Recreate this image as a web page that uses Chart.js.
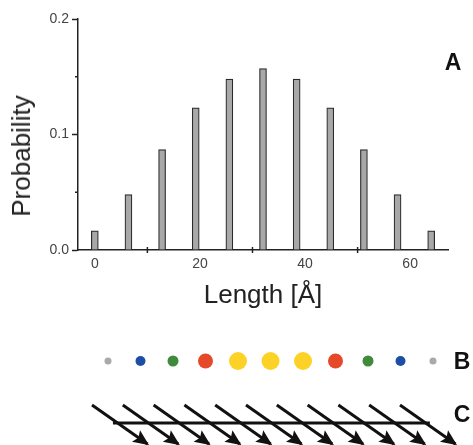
<!DOCTYPE html>
<html>
<head>
<meta charset="utf-8">
<script src="https://cdn.jsdelivr.net/npm/chart.js@4.4.1/dist/chart.umd.min.js"></script>
<style>
  body { margin: 0; background: #fff; }
  #wrap { position: relative; width: 473px; height: 445px; overflow: hidden; background: #fff; font-family: "Liberation Sans", Arial, sans-serif; }
  canvas { position: absolute; left: 0; }
  #main { top: 0; }
  #strip { top: 340px; }
  .yTitle { position: absolute; left: 21px; top: 156px; transform: translate(-50%, -50%) rotate(-90deg); font-size: 26px; color: #222; white-space: nowrap; line-height: 1; }
  .panel { position: absolute; transform: translate(-50%, -50%); font-size: 23px; font-weight: bold; color: #111; line-height: 1; }
</style>
</head>
<body>
<div id="wrap">
  <canvas id="main" width="473" height="330"></canvas>
  <canvas id="strip" width="473" height="105"></canvas>
  <div class="yTitle">Probability</div>
  <div class="panel" style="left:453px;top:62px">A</div>
  <div class="panel" style="left:462px;top:361px">B</div>
  <div class="panel" style="left:462px;top:414px">C</div>
</div>
<script>
// Histogram data
const lengths = [0, 6.4, 12.8, 19.2, 25.6, 32, 38.4, 44.8, 51.2, 57.6, 64];
const probabilities = [0.0165, 0.048, 0.087, 0.123, 0.148, 0.157, 0.148, 0.123, 0.087, 0.048, 0.0165];
const xTickLabels = [0, 20, 40, 60];
const xMinorTicks = [10, 30, 50];
const yMinorTicks = [0.05, 0.15];

// Bead row (B) and arrow row (C)
const beadSlots = [1, 2, 3, 4, 5, 6, 7, 8, 9, 10, 11];
const beadColors = ["#a9a9a9", "#1d4ea6", "#3f8b3b", "#e6482a", "#fdd227", "#fdd227", "#fdd227", "#e6482a", "#3f8b3b", "#1d4ea6", "#a9a9a9"];
const beadSizes = [3.5, 5, 5.5, 7.5, 9, 9, 9, 7.5, 5.5, 5, 3.5];
const arrowSlots = [1, 2, 3, 4, 5, 6, 7, 8, 9, 10, 11];
const arrowRun = 1.8;
const backboneSpan = [1.68, 11.97];

Chart.defaults.font.family = '"Liberation Sans", Arial, sans-serif';

const isTenth = v => Math.abs(v * 10 - Math.round(v * 10)) < 1e-6;

// small ticks that the default grid can't do
const minorTicks = {
    id: "minorTicks",
    afterDraw(chart) {
        const { ctx, scales: { x, y } } = chart;
        ctx.save();
        ctx.strokeStyle = "#222";
        ctx.lineWidth = 1.5;
        xMinorTicks.forEach(v => {
            const px = x.getPixelForValue(v);
            ctx.beginPath();
            ctx.moveTo(px, x.top - 3);
            ctx.lineTo(px, x.top + 3);
            ctx.stroke();
        });
        yMinorTicks.forEach(v => {
            const py = y.getPixelForValue(v);
            ctx.beginPath();
            ctx.moveTo(y.right - 3, py);
            ctx.lineTo(y.right, py);
            ctx.stroke();
        });
        ctx.restore();
    }
};

new Chart(document.getElementById("main"), {
    type: "bar",
    data: {
        datasets: [{
            data: lengths.map((x, i) => ({ x, y: probabilities[i] })),
            backgroundColor: "#a8a8a8",
            borderColor: "#2b2b2b",
            borderWidth: 1.2,
            barThickness: 7
        }]
    },
    options: {
        responsive: false,
        animation: false,
        layout: { padding: { top: 19, right: 25, left: 0, bottom: 0 } },
        plugins: { legend: { display: false }, tooltip: { enabled: false } },
        scales: {
            x: {
                type: "linear",
                min: -3.2,
                max: 67.2,
                offset: false,
                afterFit: s => { s.height = 80; },
                grid: { drawOnChartArea: false, drawTicks: false, offset: false },
                border: { color: "#222", width: 1.5 },
                ticks: {
                    stepSize: 10,
                    includeBounds: false,
                    autoSkip: false,
                    maxRotation: 0,
                    padding: 6,
                    color: "#444",
                    font: { size: 14 },
                    callback: v => xTickLabels.includes(v) ? String(v) : ""
                },
                title: { display: true, text: "Length [Å]", color: "#222", font: { size: 26 }, padding: { top: 0, bottom: 19 } }
            },
            y: {
                min: 0,
                max: 0.2,
                afterFit: s => { s.width = 78; },
                grid: {
                    drawOnChartArea: false,
                    tickLength: 6,
                    tickWidth: 1.5,
                    tickColor: c => isTenth(c.tick.value) ? "#222" : "transparent"
                },
                border: { color: "#222", width: 1.5 },
                ticks: {
                    stepSize: 0.05,
                    padding: 3,
                    color: "#444",
                    font: { size: 14 },
                    callback: v => isTenth(v) ? v.toFixed(1) : ""
                }
            }
        }
    },
    plugins: [minorTicks]
});

// filled heads at the end of each arrow dataset
const arrowHeads = {
    id: "arrowHeads",
    afterDatasetsDraw(chart) {
        const ctx = chart.ctx;
        chart.data.datasets.forEach((ds, i) => {
            if (!ds.arrow) return;
            const pts = chart.getDatasetMeta(i).data;
            const a = pts[0], b = pts[pts.length - 1];
            const ang = Math.atan2(b.y - a.y, b.x - a.x);
            ctx.save();
            ctx.translate(b.x, b.y);
            ctx.rotate(ang);
            ctx.fillStyle = "#111";
            ctx.beginPath();
            ctx.moveTo(2, 0);
            ctx.lineTo(-14, -7);
            ctx.lineTo(-11, 0);
            ctx.lineTo(-14, 7);
            ctx.closePath();
            ctx.fill();
            ctx.restore();
        });
    }
};

const rowY = { bead: 21, top: 65, mid: 83, tip: 104 };

const stripSets = [{
    type: "bubble",
    xAxisID: "xb",
    data: beadSlots.map((x, i) => ({ x, y: rowY.bead, r: beadSizes[i] })),
    backgroundColor: beadColors,
    borderWidth: 0
}, {
    type: "line",
    xAxisID: "xa",
    data: backboneSpan.map(x => ({ x, y: rowY.mid })),
    borderColor: "#111",
    borderWidth: 3,
    pointRadius: 0
}];
arrowSlots.forEach(x => {
    stripSets.push({
        type: "line",
        xAxisID: "xa",
        arrow: true,
        data: [{ x, y: rowY.top }, { x: x + arrowRun, y: rowY.tip }],
        borderColor: "#111",
        borderWidth: 3,
        pointRadius: 0
    });
});

new Chart(document.getElementById("strip"), {
    type: "scatter",
    data: { datasets: stripSets },
    options: {
        responsive: false,
        animation: false,
        layout: { padding: 0, autoPadding: false },
        plugins: { legend: { display: false }, tooltip: { enabled: false } },
        scales: {
            xb: { type: "linear", display: false, min: -2.323, max: 12.231 },
            xa: { type: "linear", display: false, min: -1.987, max: 13.37 },
            y: { display: false, min: 0, max: 105, reverse: true }
        }
    },
    plugins: [arrowHeads]
});
</script>
</body>
</html>
